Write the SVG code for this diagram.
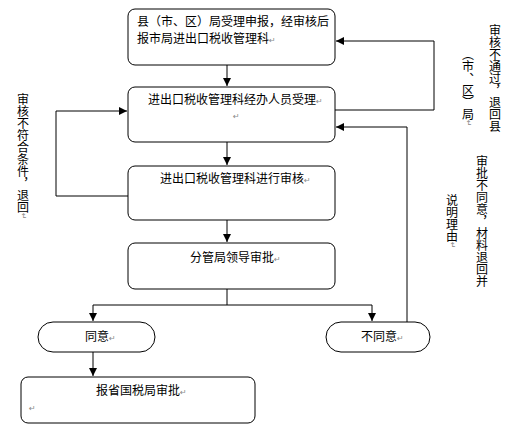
<svg xmlns="http://www.w3.org/2000/svg" width="520" height="442" viewBox="0 0 520 442">
<defs>
<marker id="ah" viewBox="0 0 8 8" refX="8" refY="4" markerWidth="8" markerHeight="8" markerUnits="userSpaceOnUse" orient="auto">
<path d="M0,0 L8,4 L0,8 Z" fill="#000"/>
</marker>
</defs>
<style>
.box{fill:#fff;stroke:#000;stroke-width:1}
.t{font-family:"Noto Sans CJK SC","Noto Sans",sans-serif;font-size:12px;fill:#000}
.pm{font-family:"DejaVu Sans",sans-serif;font-size:8px;fill:#888}
.v{font-family:"Noto Sans CJK SC","Noto Sans",sans-serif;font-size:12px;fill:#000;writing-mode:vertical-rl}
.vpm{font-family:"DejaVu Sans",sans-serif;font-size:8px;fill:#888;writing-mode:vertical-rl}
.ln{fill:none;stroke:#000;stroke-width:1}
</style>
<rect width="520" height="442" fill="#fff"/>
<g id="connectors">
<path class="ln" d="M227,65 V86" marker-end="url(#ah)"/>
<path class="ln" d="M227,142 V165" marker-end="url(#ah)"/>
<path class="ln" d="M227,220 V242" marker-end="url(#ah)"/>
<path class="ln" d="M227,289 V305 M93,305 H372"/>
<path class="ln" d="M93,305 V321" marker-end="url(#ah)"/>
<path class="ln" d="M372,305 V321" marker-end="url(#ah)"/>
<path class="ln" d="M93,352 V376" marker-end="url(#ah)"/>
<path class="ln" d="M335,110 H434 V41 H336" marker-end="url(#ah)"/>
<path class="ln" d="M407,322 V127 H336" marker-end="url(#ah)"/>
<path class="ln" d="M128,196 H56 V111 H127" marker-end="url(#ah)"/>
</g>
<g id="n1">
<rect class="box" x="128" y="9" width="207" height="56" rx="7"/>
<text class="t" x="137" y="26">县（市、区）局受理申报，经审核后</text>
<text class="t" x="137" y="43">报市局进出口税收管理科<tspan class="pm">↵</tspan></text>
</g>
<g id="n2">
<rect class="box" x="128" y="87" width="207" height="55" rx="7"/>
<text class="t" x="148" y="104">进出口税收管理科经办人员受理<tspan class="pm">↵</tspan></text>
<text class="pm" x="233" y="119">↵</text>
</g>
<g id="n3">
<rect class="box" x="128" y="166" width="207" height="54" rx="7"/>
<text class="t" x="160" y="183">进出口税收管理科进行审核<tspan class="pm">↵</tspan></text>
</g>
<g id="n4">
<rect class="box" x="128" y="243" width="207" height="46" rx="7"/>
<text class="t" x="190" y="262">分管局领导审批<tspan class="pm">↵</tspan></text>
</g>
<g id="n5">
<rect class="box" x="38" y="322" width="117" height="30" rx="15"/>
<text class="t" x="85" y="341">同意<tspan class="pm">↵</tspan></text>
</g>
<g id="n6">
<rect class="box" x="326" y="322" width="104" height="30" rx="15"/>
<text class="t" x="361" y="341">不同意<tspan class="pm">↵</tspan></text>
</g>
<g id="n7">
<rect class="box" x="21" y="377" width="234" height="46" rx="7"/>
<text class="t" x="96" y="395">报省国税局审批<tspan class="pm">↵</tspan></text>
<text class="pm" x="29" y="411">↵</text>
</g>
<g id="labels">
<text class="v" x="23" y="93">审核不符合条件，退回<tspan class="vpm">↵</tspan></text>
<text class="v" x="495" y="24">审核不通过，退回县</text>
<text class="v" x="468" y="48">（市、区）局<tspan class="vpm">↵</tspan></text>
<text class="v" x="482" y="155">审批不同意，材料退回并</text>
<text class="v" x="452" y="194">说明理由<tspan class="vpm">↵</tspan></text>
</g>
</svg>
